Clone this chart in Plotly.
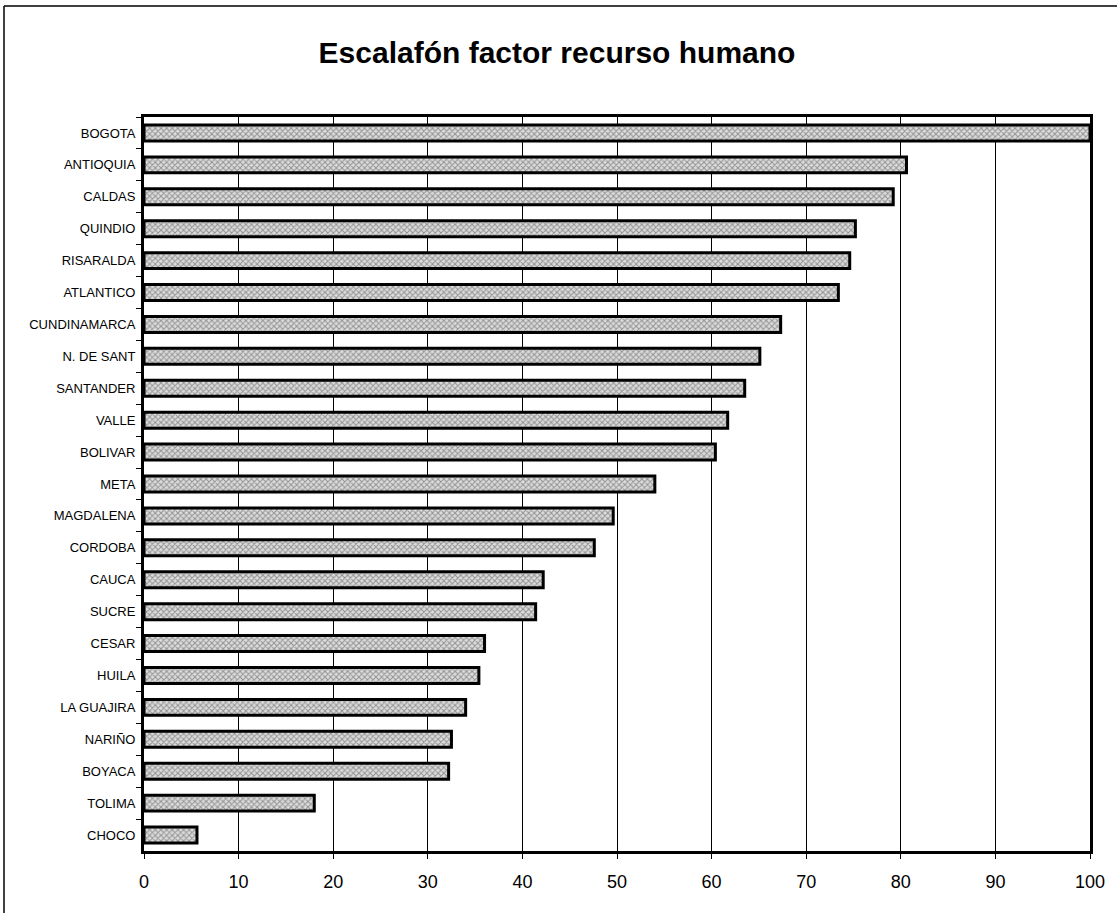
import plotly.graph_objects as go

departamentos = ["BOGOTA", "ANTIOQUIA", "CALDAS", "QUINDIO", "RISARALDA", "ATLANTICO",
                 "CUNDINAMARCA", "N. DE SANT", "SANTANDER", "VALLE", "BOLIVAR", "META",
                 "MAGDALENA", "CORDOBA", "CAUCA", "SUCRE", "CESAR", "HUILA", "LA GUAJIRA",
                 "NARIÑO", "BOYACA", "TOLIMA", "CHOCO"]
valores = [100.0, 80.6, 79.2, 75.2, 74.6, 73.4, 67.3, 65.1, 63.5, 61.7, 60.4, 54.0,
           49.6, 47.6, 42.2, 41.4, 36.0, 35.4, 34.0, 32.5, 32.2, 18.0, 5.6]
x_ticks = [0, 10, 20, 30, 40, 50, 60, 70, 80, 90, 100]

W, H = 1117, 913
L, R, T, B = 144, 27, 117, 62
PW, PH = W - L - R, H - T - B

fig = go.Figure(go.Bar(
    x=valores, y=departamentos, orientation="h", width=0.5,
    marker=dict(color="#c8c8c8",
                line=dict(color="black", width=3),
                pattern=dict(shape="x", size=4, solidity=0.45,
                             fgcolor="#4a4a4a", bgcolor="#dcdcdc")),
    hoverinfo="x+y",
))

fig.update_layout(
    width=W, height=H,
    paper_bgcolor="white", plot_bgcolor="white",
    margin=dict(l=L, r=R, t=T, b=B),
    showlegend=False,
    font=dict(family="Arial, Liberation Sans, sans-serif", color="black"),
    title=dict(text="<b>Escalafón factor recurso humano</b>",
               x=557 / W, xref="container", xanchor="center",
               y=1 - 52 / H, yref="container", yanchor="middle",
               font=dict(size=30, color="black")),
)

fig.update_xaxes(
    range=[0, 100], tickvals=x_ticks, ticktext=[str(t) for t in x_ticks],
    showgrid=True, gridcolor="black", gridwidth=1,
    showline=True, linecolor="black", linewidth=3, mirror=True,
    ticks="outside", ticklen=5, tickwidth=1, tickcolor="black",
    tickfont=dict(size=18, color="black"), ticklabelstandoff=7,
    zeroline=False, fixedrange=True,
)
fig.update_yaxes(
    autorange="reversed", type="category",
    categoryorder="array", categoryarray=departamentos,
    showgrid=False,
    showline=True, linecolor="black", linewidth=3, mirror=True,
    ticks="outside", tickson="boundaries", ticklen=5, tickwidth=1, tickcolor="black",
    tickfont=dict(size=13, color="black"), ticklabelstandoff=3,
    fixedrange=True,
)

# outer frame (top and left edges of the scanned chart area)
fx = (4 - L) / PW
fy = 1 + (T - 6) / PH
fig.add_shape(type="line", xref="paper", yref="paper",
              x0=fx, x1=1 + R / PW, y0=fy, y1=fy,
              line=dict(color="black", width=1.5))
fig.add_shape(type="line", xref="paper", yref="paper",
              x0=fx, x1=fx, y0=fy, y1=-B / PH,
              line=dict(color="black", width=1.5))

fig.write_html("out.html", config={"displayModeBar": False},
               post_script="document.body.style.margin='0';document.body.style.overflow='hidden';")
